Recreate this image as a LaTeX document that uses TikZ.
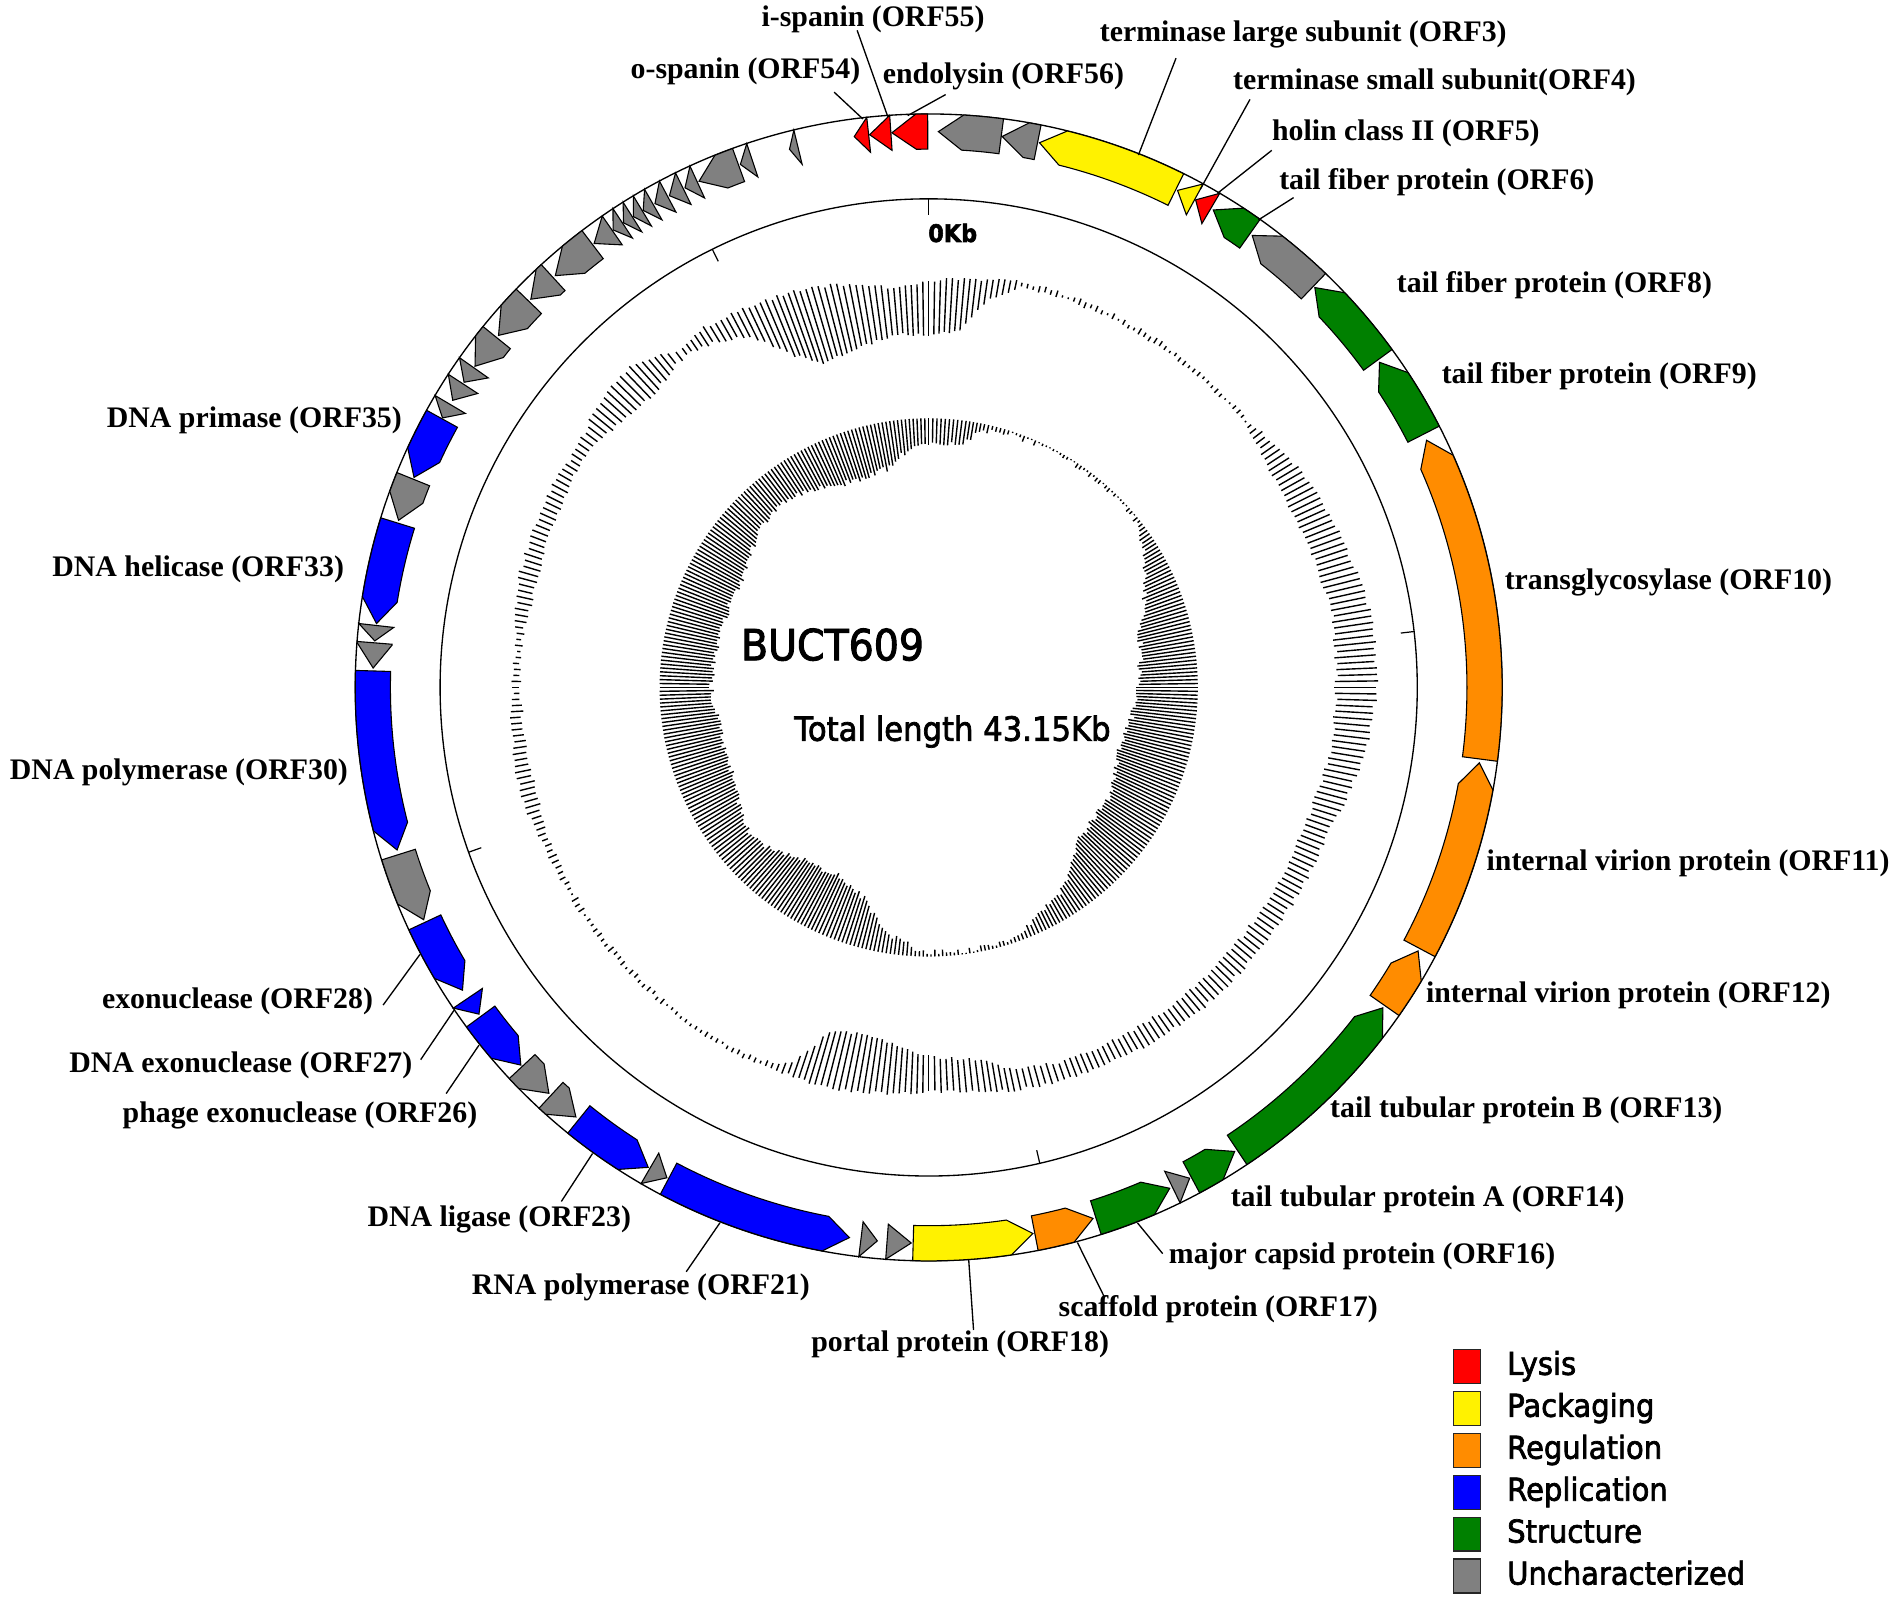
\documentclass[tikz,border=0pt]{standalone}
\usepackage{fontspec}
\setmainfont{Liberation Serif}
\newfontfamily\tahoma[FakeStretch=0.92,FakeBold=2.2]{DejaVu Sans}

\tikzset{
  lbl/.style={font=\fontsize{24.6}{29}\selectfont\bfseries, inner sep=0pt, anchor=west},
  lead/.style={line width=1.1pt},
  genebox/.style={draw=black, line width=0.9pt, line join=miter},
  lysis/.style={genebox, fill=red},
  pack/.style={genebox, fill=yellow},
  regu/.style={genebox, fill=orange1},
  repl/.style={genebox, fill=blue},
  struc/.style={genebox, fill=green1},
  unch/.style={genebox, fill=gray1},
  bar/.style={line width=1.15pt},
  legsq/.style={draw=black!85, line width=1.1pt, minimum width=22pt, minimum height=28pt, inner sep=0pt},
  legtxt/.style={font=\tahoma\fontsize{26}{30}\selectfont, anchor=base west, inner sep=0pt},
}
\definecolor{orange1}{RGB}{255,140,0}
\definecolor{green1}{RGB}{0,128,0}
\definecolor{gray1}{RGB}{128,128,128}

% gene arrow on the ring: #1 tip angle, #2 end angle (clockwise from top), #3 style
\newcommand{\gene}[3]{%
  \pgfmathsetmacro\gtip{90-#1}%
  \pgfmathsetmacro\gend{90-#2}%
  \pgfmathsetmacro\gbase{max(\gtip-2.5,\gend)}%
  \ifdim\gbase pt>\gend pt
    \draw[#3] (\gend:473) arc[start angle=\gend, end angle=\gbase, radius=473]
      -- (\gtip:458.5) -- (\gbase:444) arc[start angle=\gbase, end angle=\gend, radius=444] -- cycle;
  \else
    \draw[#3] (\gend:473) -- (\gtip:458.5) -- (\gend:444) -- cycle;
  \fi
}

\begin{document}
\begin{tikzpicture}[x=1pt,y=1pt]
\useasboundingbox (0,0) rectangle (1568,-1320);
\pgfmathsetseed{7}

\begin{scope}[shift={(766,-567)}]
  % rings
  \draw[line width=1.1pt] (0,0) circle[radius=473];
  \draw[line width=1.1pt] (0,0) circle[radius=403];
  \foreach \k in {10,20,30,40}{
    \pgfmathsetmacro\tk{90-\k*360/43.15}
    \draw[line width=1pt] (\tk:403) -- (\tk:392);
  }
  \draw[line width=1pt] (90:403) -- (90:390);

  % genes, all on the minus strand
  \gene{1.0}{7.5}{unch}
  \gene{7.6}{11.3}{unch}
  \gene{11.5}{26.4}{pack}
  \gene{26.6}{28.6}{pack}
  \gene{28.7}{30.5}{lysis}
  \gene{30.8}{35.3}{struc}
  \gene{35.6}{43.8}{unch}
  \gene{44.0}{53.9}{struc}
  \gene{54.2}{62.9}{struc}
  \gene{63.6}{97.4}{regu}
  \gene{97.8}{118.0}{regu}
  \gene{118.3}{124.9}{regu}
  \gene{125.2}{146.3}{struc}
  \gene{146.6}{151.8}{struc}
  \gene{152.0}{154.0}{unch}
  \gene{154.3}{162.5}{struc}
  \gene{162.8}{169.0}{regu}
  \gene{169.2}{181.6}{pack}
  \gene{181.8}{184.3}{unch}
  \gene{185.3}{187.0}{unch}
  \gene{188.2}{207.9}{repl}
  \gene{208.1}{210.1}{unch}
  \gene{210.3}{219.0}{repl}
  \gene{219.4}{222.8}{unch}
  \gene{223.1}{227.0}{unch}
  \gene{227.2}{233.7}{repl}
  \gene{234.0}{236.0}{repl}
  \gene{237.0}{245.0}{repl}
  \gene{245.3}{252.5}{unch}
  \gene{253.0}{271.7}{repl}
  \gene{272.0}{274.6}{unch}
  \gene{274.8}{276.4}{unch}
  \gene{276.6}{287.2}{repl}
  \gene{287.5}{292.0}{unch}
  \gene{292.2}{298.9}{repl}
  \gene{299.0}{300.6}{unch}
  \gene{301.1}{303.1}{unch}
  \gene{303.3}{305.1}{unch}
  \gene{305.3}{309.0}{unch}
  \gene{309.3}{314.0}{unch}
  \gene{314.3}{317.5}{unch}
  \gene{317.8}{322.8}{unch}
  \gene{323.0}{325.3}{unch}
  \gene{325.4}{326.6}{unch}
  \gene{326.7}{327.8}{unch}
  \gene{327.9}{329.0}{unch}
  \gene{329.1}{330.3}{unch}
  \gene{330.5}{332.0}{unch}
  \gene{332.2}{333.8}{unch}
  \gene{334.0}{335.4}{unch}
  \gene{335.6}{340.0}{unch}
  \gene{340.2}{341.5}{unch}
  \gene{345.5}{346.4}{unch}
  \gene{352.3}{353.8}{lysis}
  \gene{353.9}{356.1}{lysis}
  \gene{356.2}{359.9}{lysis}

  % GC content ring
  \foreach \ta/\tb/\ia/\ib/\oa/\ob in {0/5/290/295/335/338, 5/9/295/325/338/340, 9/13/325/338/340/343,
      13/50/339/340/343/343, 50/60/340/332/343/355, 60/70/332/334/355/362, 70/80/334/338/362/369,
      80/90/338/336/369/370, 90/100/336/335/370/362, 100/110/335/330/362/350, 110/130/330/330/350/348,
      130/140/330/330/348/348, 140/150/330/329/348/345, 150/160/329/328/345/342, 160/168/328/322/342/340,
      168/172/322/310/340/336, 172/180/310/304/336/333, 180/190/304/290/333/339, 190/196/290/295/339/340,
      196/200/295/330/340/340, 200/205/330/338/340/341, 205/245/338/338/341/342, 245/255/338/335/342/348,
      255/265/335/336/348/345, 265/275/336/338/345/342, 275/285/338/334/342/350, 285/300/334/340/350/352,
      300/304/340/342/352/350, 304/310/342/336/350/358, 310/317/336/331/358/362, 317/322/331/338/362/350,
      322/324/338/339/350/345, 324/328/339/335/345/350, 328/333/335/325/350/348, 333/338/325/295/348/346,
      338/342/295/281/346/345, 342/348/281/285/345/340, 348/355/285/293/340/330, 355/360/293/290/330/335}{
    \pgfmathtruncatemacro\nb{max(1,round((\tb-\ta)/0.85))}
    \foreach \i in {1,...,\nb}{
      \pgfmathsetmacro\th{90-\ta-(\i-1)*(\tb-\ta)/\nb}
      \pgfmathsetmacro\ri{\ia+(\ib-\ia)*(\i-1)/\nb+1.5*rand}
      \pgfmathsetmacro\ro{max(\ri+1.5,\oa+(\ob-\oa)*(\i-1)/\nb+1.5*rand)}
      \draw[bar] (\th:\ri) -- (\th:\ro);
    }
  }

  % GC skew ring
  \foreach \ta/\tb/\la/\lb in {0/8/20/20, 8/12/20/5, 12/20/5/3, 20/50/3/2, 50/56/2/10, 56/65/10/25,
      65/75/25/42, 75/85/42/47, 85/95/47/52, 95/110/52/57, 110/120/57/48, 120/135/48/47, 135/145/47/25,
      145/155/25/12, 155/162/12/4, 162/172/4/2, 172/182/2/5, 182/190/5/18, 190/197/18/40, 197/205/40/50,
      205/215/50/47, 215/225/47/35, 225/232/35/32, 232/245/32/45, 245/260/45/46, 260/270/46/43,
      270/285/43/45, 285/300/45/44, 300/310/44/35, 310/320/35/27, 320/330/27/33, 330/340/33/42,
      340/350/42/38, 350/355/38/25, 355/360/25/20}{
    \pgfmathtruncatemacro\nb{max(1,round((\tb-\ta)/0.85))}
    \foreach \i in {1,...,\nb}{
      \pgfmathsetmacro\th{90-\ta-(\i-1)*(\tb-\ta)/\nb}
      \pgfmathsetmacro\ln{max(1,\la+(\lb-\la)*(\i-1)/\nb+2.5*rand)}
      \draw[bar] (\th:222) -- (\th:{222-\ln});
    }
  }

  % leader ends on the ring
  \coordinate (e55) at ({90-355.9}:472);
  \coordinate (e54) at ({90-353.4}:472);
  \coordinate (e56) at ({90-357.9}:472);
  \coordinate (e3)  at ({90-21.5}:472);
  \coordinate (e4)  at ({90-28.6}:468);
  \coordinate (e5)  at ({90-30.3}:472);
  \coordinate (e6)  at ({90-35.2}:472);
  \coordinate (e16) at ({90-158.7}:474);
  \coordinate (e17) at ({90-165.0}:474);
  \coordinate (e18) at ({90-176.0}:473);
  \coordinate (e21) at ({90-201.3}:474);
  \coordinate (e23) at ({90-215.8}:474);
  \coordinate (e26) at ({90-231.5}:474);
  \coordinate (e27) at ({90-235.8}:473);
  \coordinate (e28) at ({90-242.3}:474);
\end{scope}

% centre texts
\node[font=\tahoma\fontsize{35.4}{40}\selectfont, anchor=base west, inner sep=0pt] (name) at (611,-544.6) {BUCT609};
\node[font=\tahoma\fontsize{27.5}{32}\selectfont, anchor=base west, inner sep=0pt] (len) at (655,-611) {Total length 43.15Kb};
\node[font=\tahoma\bfseries\fontsize{20}{24}\selectfont, anchor=base west, inner sep=0pt] (zero) at (765.5,-199.6) {0Kb};

% gene labels
\node[lbl] (l55) at (628,-16) {i-spanin (ORF55)};
\node[lbl] (l54) at (520,-59) {o-spanin (ORF54)};
\node[lbl] (l56) at (728,-63) {endolysin (ORF56)};
\node[lbl] (l3)  at (907,-28) {terminase large subunit (ORF3)};
\node[lbl] (l4)  at (1017,-68) {terminase small subunit(ORF4)};
\node[lbl] (l5)  at (1049,-110) {holin class II (ORF5)};
\node[lbl] (l6)  at (1055,-150) {tail fiber protein (ORF6)};
\node[lbl] (l8)  at (1152,-235) {tail fiber protein (ORF8)};
\node[lbl] (l9)  at (1189,-310) {tail fiber protein (ORF9)};
\node[lbl] (l10) at (1241,-480) {transglycosylase (ORF10)};
\node[lbl] (l11) at (1226,-712) {internal virion protein (ORF11)};
\node[lbl] (l12) at (1176,-821) {internal virion protein (ORF12)};
\node[lbl] (l13) at (1097,-916) {tail tubular protein B (ORF13)};
\node[lbl] (l14) at (1015,-989) {tail tubular protein A (ORF14)};
\node[lbl] (l16) at (964,-1036) {major capsid protein (ORF16)};
\node[lbl] (l17) at (873,-1080) {scaffold protein (ORF17)};
\node[lbl] (l18) at (669,-1109) {portal protein (ORF18)};
\node[lbl] (l21) at (389,-1062) {RNA polymerase (ORF21)};
\node[lbl] (l23) at (303,-1006) {DNA ligase (ORF23)};
\node[lbl] (l26) at (101,-920) {phage exonuclease (ORF26)};
\node[lbl] (l27) at (57,-879) {DNA exonuclease (ORF27)};
\node[lbl] (l28) at (84,-826) {exonuclease (ORF28)};
\node[lbl] (l30) at (8,-637) {DNA polymerase (ORF30)};
\node[lbl] (l33) at (43,-470) {DNA helicase (ORF33)};
\node[lbl] (l35) at (88,-347) {DNA primase (ORF35)};

% leader starts next to the labels
\coordinate (s55) at (707,-25);
\coordinate (s54) at (688,-76);
\coordinate (s56) at (780,-78);
\coordinate (s3)  at (970,-48);
\coordinate (s4)  at (1031,-82);
\coordinate (s5)  at (1049,-124);
\coordinate (s6)  at (1067,-163);
\coordinate (s16) at (959,-1034);
\coordinate (s17) at (911,-1070);
\coordinate (s18) at (803,-1097);
\coordinate (s21) at (566,-1049);
\coordinate (s23) at (463,-991);
\coordinate (s26) at (368,-902);
\coordinate (s27) at (347,-874);
\coordinate (s28) at (316,-829);
\foreach \g in {55,54,56,3,4,5,6,16,17,18,21,23,26,27,28}
  \draw[lead] (s\g) -- (e\g);

% legend
\node[legsq, fill=red]     (k1) at (1210,-1127) {};
\node[legsq, fill=yellow]  (k2) at (1210,-1161.6) {};
\node[legsq, fill=orange1] (k3) at (1210,-1196.2) {};
\node[legsq, fill=blue]    (k4) at (1210,-1230.8) {};
\node[legsq, fill=green1]  (k5) at (1210,-1265.4) {};
\node[legsq, fill=gray1]   (k6) at (1210,-1300) {};
\node[legtxt] (t1) at (1243,-1134) {Lysis};
\node[legtxt] (t2) at (1243,-1168.6) {Packaging};
\node[legtxt] (t3) at (1243,-1203.2) {Regulation};
\node[legtxt] (t4) at (1243,-1237.8) {Replication};
\node[legtxt] (t5) at (1243,-1272.4) {Structure};
\node[legtxt] (t6) at (1243,-1307) {Uncharacterized};
\end{tikzpicture}
\end{document}
